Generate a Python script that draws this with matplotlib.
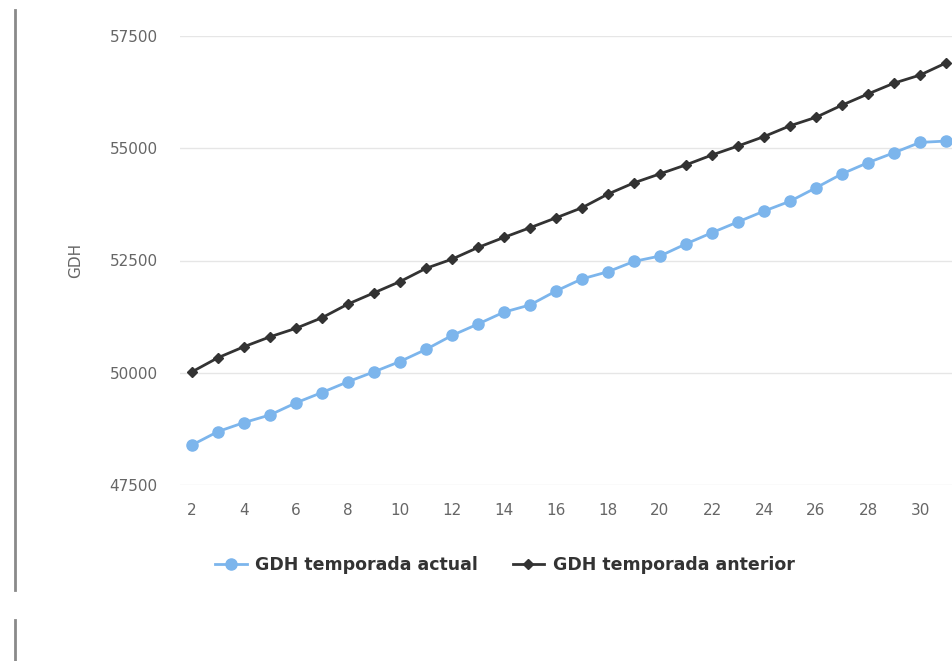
import matplotlib
matplotlib.use("Agg")
import matplotlib.pyplot as plt
from matplotlib.lines import Line2D

days = list(range(2, 32))
actual = [48390, 48690, 48890, 49060, 49330, 49560, 49800, 50020, 50250, 50520,
          50830, 51085, 51350, 51510, 51820, 52090, 52250, 52480, 52600, 52870,
          53120, 53360, 53600, 53820, 54120, 54430, 54680, 54900, 55130, 55160]
anterior = [50020, 50335, 50580, 50800, 50990, 51225, 51530, 51780, 52030, 52325,
            52530, 52790, 53015, 53230, 53450, 53675, 53980, 54230, 54430, 54630,
            54850, 55050, 55260, 55500, 55690, 55960, 56210, 56450, 56630, 56900]
y_ticks = [47500, 50000, 52500, 55000, 57500]
x_ticks = list(range(2, 31, 2))
label_actual = "GDH temporada actual"
label_anterior = "GDH temporada anterior"
y_label = "GDH"

plt.rcParams['font.family'] = ['DejaVu Sans']

fig = plt.figure(figsize=(9.52, 6.61), dpi=100)
ax = fig.add_axes([180/952, 1-485/661, 1-180/952, (485-36)/661])

ax.plot(days, actual, color='#7cb5ec', lw=2, marker='o', ms=8, label=label_actual, zorder=3)
ax.plot(days, anterior, color='#333333', lw=2, marker='D', ms=5.5, label=label_anterior, zorder=3)

ax.set_xlim(1.54, 31.23)
ax.set_ylim(47500, 57500)
ax.set_yticks(y_ticks)
ax.set_xticks(x_ticks)
ax.grid(axis='y', color='#e6e6e6', lw=1)
ax.set_axisbelow(True)
for s in ax.spines.values():
    s.set_visible(False)
ax.tick_params(axis='both', length=0, labelsize=11, labelcolor='#666666')
ax.tick_params(axis='y', pad=16)
ax.tick_params(axis='x', pad=13)
ax.set_ylabel(y_label, color='#666666', fontsize=11, labelpad=19)

fig.legend(loc='center', bbox_to_anchor=(505/952, 1-565/661), ncol=2, frameon=False,
           prop={'size': 12.5, 'weight': 'bold'}, labelcolor='#333333',
           handlelength=1.8, columnspacing=2.0, handletextpad=0.5)

# left-edge vertical line artifact from the screenshot
fig.add_artist(Line2D([15/952, 15/952], [1-10/661, 1-590/661], color='#8a8a8a', lw=2))
fig.add_artist(Line2D([15/952, 15/952], [1-620/661, 0], color='#8a8a8a', lw=2))

fig.savefig("out.png", dpi=100)
